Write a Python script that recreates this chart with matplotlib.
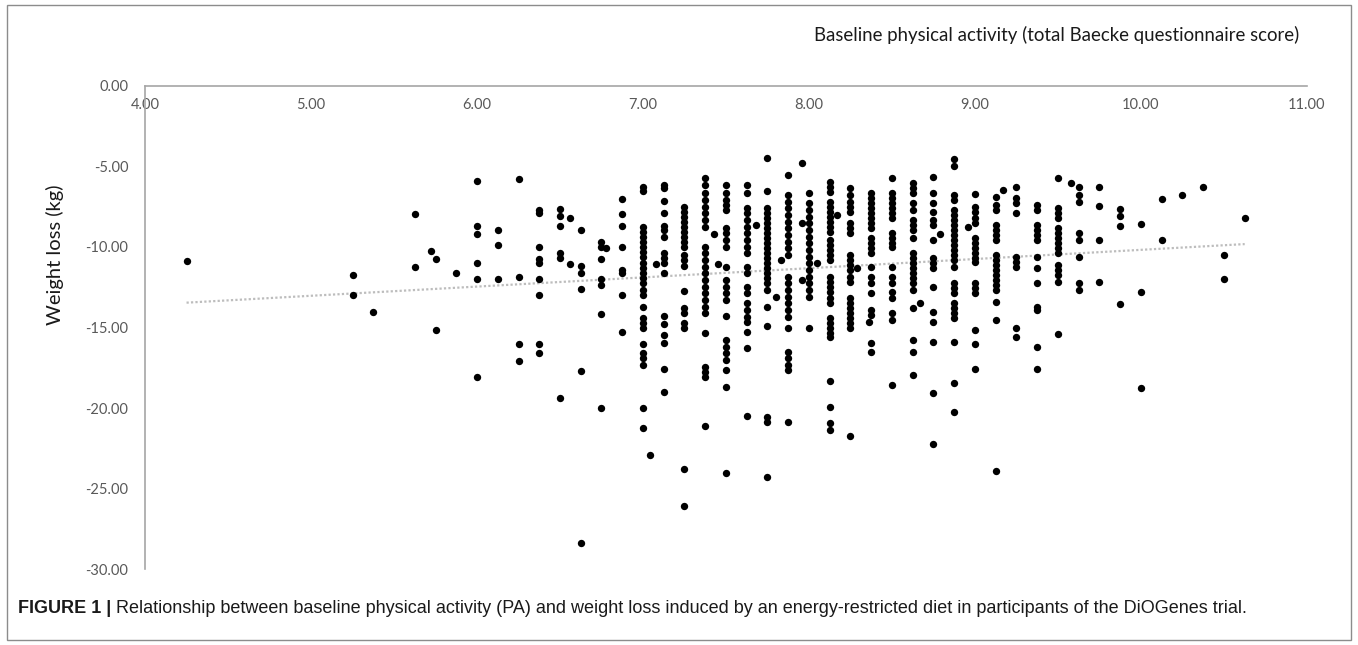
import numpy as np
import matplotlib
matplotlib.use('Agg')
import matplotlib.pyplot as plt
from matplotlib.patches import Rectangle

# Baecke score levels (x) and weight change (kg) read for each column of dots
score_levels = [4.25, 5.25, 5.375, 5.625, 5.72, 5.75, 5.875, 6.0, 6.125, 6.25,
                6.375, 6.5, 6.56, 6.625, 6.75, 6.78, 6.875, 7.0, 7.04, 7.08,
                7.125, 7.25, 7.375, 7.43, 7.45, 7.5, 7.625, 7.68, 7.75, 7.8,
                7.83, 7.875, 7.96, 8.0, 8.05, 8.125, 8.17, 8.25, 8.29, 8.36,
                8.375, 8.5, 8.625, 8.67, 8.75, 8.79, 8.875, 8.96, 9.0, 9.125,
                9.17, 9.25, 9.375, 9.5, 9.58, 9.625, 9.75, 9.875, 10.0, 10.125,
                10.25, 10.375, 10.5, 10.625]

weight_change = [
    [-10.85],
    [-11.74, -13.0],
    [-14.04],
    [-7.95, -11.24],
    [-10.23],
    [-10.73, -15.18],
    [-11.6],
    [-5.9, -8.68, -9.21, -10.97, -12.0, -18.1],
    [-8.94, -9.85, -12.0],
    [-5.78, -11.86, -16.04, -17.08],
    [-7.7, -7.9, -9.98, -10.73, -10.97, -12.0, -12.98, -16.04, -16.56],
    [-7.64, -8.05, -8.7, -10.4, -10.7, -19.35],
    [-8.18, -11.07],
    [-8.92, -11.2, -11.6, -12.63, -17.7, -28.4],
    [-9.67, -9.98, -10.75, -11.99, -12.36, -14.16, -19.98],
    [-10.04],
    [-7.04, -7.95, -8.7, -10.0, -11.43, -11.6, -12.98, -15.3],
    [-6.25, -6.5, -8.74, -9.05, -9.36, -9.67, -9.98, -10.29, -10.6, -11.01,
     -11.33, -11.64, -11.95, -12.26, -12.67, -12.98, -13.75, -14.43, -14.74,
     -15.05, -16.04, -16.6, -16.9, -17.33, -19.98, -21.26],
    [-22.9],
    [-11.07],
    [-6.15, -6.36, -7.14, -7.9, -8.7, -8.94, -9.36, -10.4, -10.7, -11.0, -11.6,
     -14.3, -14.8, -15.47, -15.94, -17.58, -18.98],
    [-7.5, -7.8, -8.12, -8.43, -8.74, -9.05, -9.36, -9.67, -9.98, -10.5, -10.8,
     -11.18, -12.71, -13.8, -14.08, -14.74, -15.05, -23.8, -26.1],
    [-5.73, -6.15, -6.67, -7.08, -7.49, -7.91, -8.32, -8.74, -9.98, -10.39,
     -10.81, -11.22, -11.64, -12.05, -12.46, -12.88, -13.29, -13.71, -14.12,
     -15.32, -17.43, -17.74, -18.1, -21.12],
    [-9.19],
    [-11.07],
    [-6.15, -6.67, -7.08, -7.39, -7.7, -8.84, -9.15, -9.57, -9.98, -11.22,
     -12.05, -12.46, -12.88, -13.29, -14.29, -15.78, -16.19, -16.6, -17.02,
     -17.64, -18.67, -24.06],
    [-6.15, -6.67, -7.6, -7.91, -8.32, -8.74, -9.15, -9.57, -9.98, -10.39,
     -11.22, -11.64, -12.46, -12.88, -13.5, -13.91, -14.33, -14.64, -15.26,
     -16.29, -20.5],
    [-8.63],
    [-4.49, -6.5, -7.6, -7.91, -8.22, -8.53, -8.84, -9.15, -9.46, -9.77, -10.08,
     -10.39, -10.7, -11.01, -11.32, -11.64, -11.95, -12.26, -12.67, -13.71,
     -14.89, -20.54, -20.85, -24.31],
    [-13.08],
    [-10.81],
    [-5.53, -6.77, -7.18, -7.6, -8.01, -8.43, -8.84, -9.25, -9.67, -10.08, -10.5,
     -11.84, -12.26, -12.67, -13.08, -13.5, -13.91, -14.33, -15.05, -16.5,
     -16.92, -17.33, -17.64, -20.89],
    [-4.76, -8.53, -12.05],
    [-6.67, -7.29, -7.7, -8.12, -8.53, -8.94, -9.36, -9.77, -10.19, -10.6,
     -11.01, -11.43, -11.84, -12.26, -12.67, -13.08, -15.05],
    [-11.0],
    [-5.94, -6.25, -6.56, -7.18, -7.49, -7.81, -8.12, -8.43, -8.74, -9.05, -9.57,
     -9.88, -10.19, -10.5, -10.81, -11.84, -12.15, -12.46, -12.77, -13.19, -13.5,
     -14.43, -14.74, -15.05, -15.36, -15.61, -18.3, -19.96, -20.95, -21.37],
    [-8.01],
    [-6.36, -6.77, -7.18, -7.49, -7.81, -8.53, -8.84, -9.15, -10.5, -10.81,
     -11.12, -11.43, -11.84, -12.15, -13.19, -13.5, -13.81, -14.12, -14.43,
     -14.74, -15.05, -21.74],
    [-11.32],
    [-14.64],
    [-6.67, -6.98, -7.29, -7.6, -7.91, -8.22, -8.53, -8.84, -9.46, -9.77, -10.08,
     -10.39, -11.22, -11.84, -12.26, -12.88, -13.91, -14.22, -15.98, -16.5],
    [-5.73, -6.67, -6.98, -7.29, -7.6, -7.91, -8.22, -9.15, -9.46, -9.77, -9.98,
     -11.22, -11.84, -12.26, -12.77, -13.19, -14.12, -14.53, -18.57],
    [-6.05, -6.36, -6.67, -7.29, -7.7, -8.32, -8.63, -8.94, -9.46, -10.39, -10.7,
     -11.01, -11.32, -11.64, -11.95, -12.26, -12.67, -13.81, -15.78, -16.5,
     -17.95],
    [-13.5],
    [-5.63, -6.67, -7.29, -7.81, -8.32, -8.63, -9.57, -10.7, -11.01, -11.32,
     -12.46, -14.02, -14.64, -15.88, -19.09, -22.26],
    [-9.19],
    [-4.55, -4.97, -6.77, -7.08, -7.7, -8.01, -8.32, -8.63, -8.94, -9.25, -9.57,
     -9.88, -10.19, -10.5, -10.81, -11.22, -12.26, -12.57, -12.88, -13.5,
     -13.81, -14.12, -14.43, -15.88, -18.47, -20.23],
    [-8.78],
    [-6.73, -7.49, -7.81, -8.22, -8.53, -9.46, -9.77, -10.08, -10.39, -10.7,
     -10.91, -12.26, -12.57, -12.88, -15.16, -16.02, -17.6],
    [-6.87, -7.39, -7.7, -8.63, -8.94, -9.25, -9.57, -10.5, -10.81, -11.12,
     -11.43, -11.74, -12.05, -12.36, -12.67, -13.4, -14.53, -23.91],
    [-6.46],
    [-6.25, -6.98, -7.29, -7.91, -10.6, -10.91, -11.22, -15.05, -15.57],
    [-7.39, -7.7, -8.63, -8.94, -9.25, -9.57, -10.6, -11.32, -12.26, -13.71,
     -13.91, -16.19, -17.58],
    [-5.73, -7.6, -7.91, -8.22, -8.84, -9.15, -9.46, -9.77, -10.08, -10.39,
     -11.12, -11.43, -11.74, -12.15, -15.4],
    [-6.0],
    [-6.25, -6.77, -7.18, -9.15, -9.57, -10.6, -12.26, -12.67],
    [-6.29, -7.43, -9.57, -12.15],
    [-7.64, -8.05, -8.69, -13.54],
    [-8.59, -12.77, -18.74],
    [-7.04, -9.57],
    [-6.77],
    [-6.29],
    [-10.5, -12.01],
    [-8.22],
]

x_ticks = [4, 5, 6, 7, 8, 9, 10, 11]
y_ticks = [0, -5, -10, -15, -20, -25, -30]
title = 'Baseline physical activity (total Baecke questionnaire score)'
ylabel = 'Weight loss (kg)'
caption_bold = 'FIGURE 1 | '
caption = ('Relationship between baseline physical activity (PA) and weight loss '
           'induced by an energy-restricted diet in participants of the DiOGenes trial.')

x = np.concatenate([[s] * len(w) for s, w in zip(score_levels, weight_change)])
y = np.concatenate(weight_change)

fig = plt.figure(figsize=(13.58, 6.45), dpi=100)
fig.patches.append(Rectangle((0.005, 0.008), 0.99, 0.984, transform=fig.transFigure,
                             fill=False, edgecolor='#8c8c8c', linewidth=1))

ax = fig.add_axes([0.1068, 0.1178, 0.8556, 0.7489])
ax.scatter(x, y, s=28, color='black', marker='o', linewidths=0, zorder=3)

# linear trend line (like Excel)
k, b = np.polyfit(x, y, 1)
xt = np.array([x.min(), x.max()])
ax.plot(xt, k * xt + b, color='#bdbdbd', linestyle=(0, (1, 1)), linewidth=1.6, zorder=2)

ax.set_xlim(4, 11)
ax.set_ylim(-30, 0)
for s in ['right', 'bottom']:
    ax.spines[s].set_visible(False)
for s in ['left', 'top']:
    ax.spines[s].set_color('#a6a6a6')
    ax.spines[s].set_linewidth(1.2)

ax.xaxis.set_ticks_position('top')
ax.set_xticks(x_ticks)
ax.set_xticklabels([f'{t:.2f}' for t in x_ticks])
ax.set_yticks(y_ticks)
ax.set_yticklabels([f'{t:.2f}' for t in y_ticks])
ax.tick_params(axis='x', length=0, pad=-19, labelsize=10.5, labelcolor='#595959')
ax.tick_params(axis='y', length=0, pad=12, labelsize=10.5, labelcolor='#595959')
for lab in ax.get_xticklabels() + ax.get_yticklabels():
    lab.set_family('Lato')

ax.set_ylabel(ylabel, fontsize=14.5, family='Lato', color='#1a1a1a')
ax.yaxis.set_label_coords(-0.07, 0.65)

fig.text(0.957, 0.946, title, ha='right', va='center', fontsize=13.4,
         family='Lato', color='#1a1a1a')

t1 = fig.text(0.013, 0.057, caption_bold, ha='left', va='center', fontsize=13,
              family='Liberation Sans', weight='bold', color='#1a1a1a')
fig.canvas.draw()
bb = t1.get_window_extent()
fig.text(bb.x1 / fig.bbox.width, 0.057, caption, ha='left', va='center',
         fontsize=13, family='Liberation Sans', color='#1a1a1a')

fig.savefig('out.png', dpi=100)
